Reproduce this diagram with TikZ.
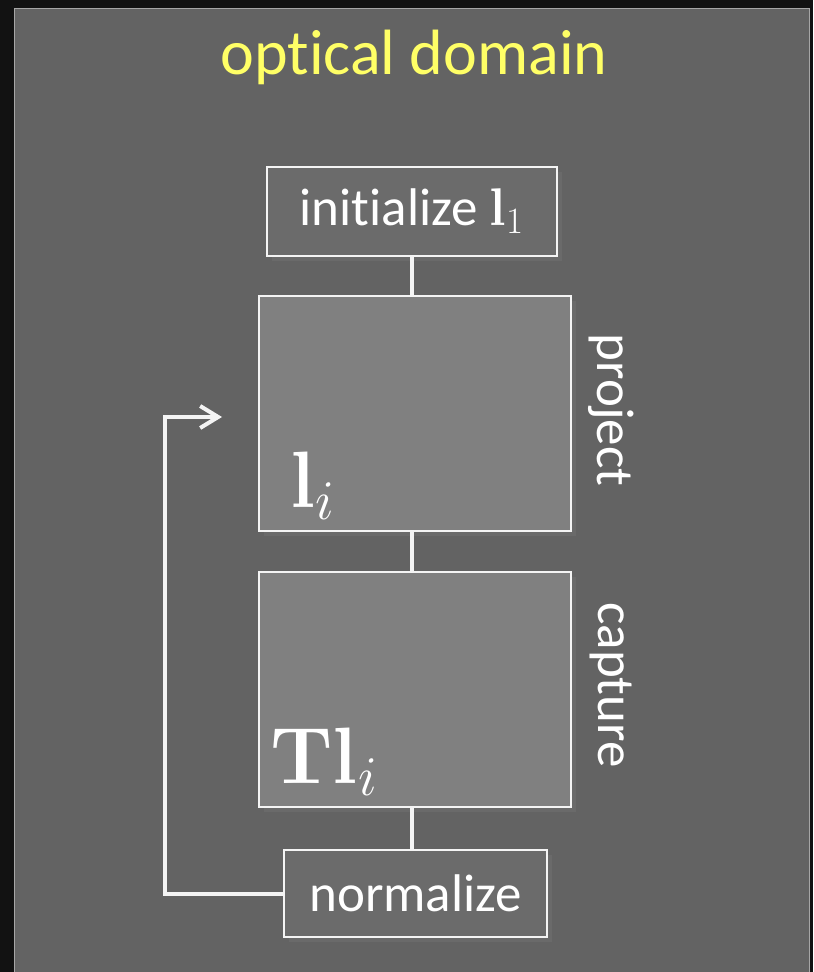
\RequirePackage{fix-cm}
\documentclass[tikz,border=0pt]{standalone}
\usepackage[no-math]{fontspec}
\setmainfont{Carlito}
\usetikzlibrary{arrows.meta,shadows}

% split the t+i pair so the font does not join it into one glyph
\newcommand{\tisplit}{t\kern0pt i}

\definecolor{outerbg}{HTML}{121212}
\definecolor{panelbg}{HTML}{636363}
\definecolor{bigfill}{HTML}{808080}
\definecolor{smallfill}{HTML}{6B6B6B}
\definecolor{edgewhite}{HTML}{F4F4F4}
\definecolor{titleyellow}{HTML}{FFFF66}

\tikzset{
  boxshadow/.style={drop shadow={opacity=0.25, shadow xshift=2.5pt, shadow yshift=-2.5pt}},
  stagebox/.style={draw=edgewhite, line width=1.4pt, fill=bigfill, inner sep=0pt,
    minimum width=156pt, minimum height=117.5pt, boxshadow},
  smallbox/.style={draw=edgewhite, line width=1.4pt, fill=smallfill, inner sep=0pt,
    text=white, font=\fontsize{26.5}{30}\selectfont, boxshadow},
  link/.style={draw=edgewhite, line width=2pt},
  sidelabel/.style={text=white, font=\fontsize{26.5}{30}\selectfont, rotate=-90},
  biglabel/.style={text=white, anchor=base west, inner sep=0pt, font=\fontsize{40}{48}\selectfont}
}

\begin{document}
\begin{tikzpicture}[x=0.5pt, y=-0.5pt]
  \useasboundingbox (0,0) rectangle (813,972);
  \fill[outerbg] (0,0) rectangle (813,972);
  \fill[panelbg] (14,9) rectangle (809,975);
  \draw[gray!70, line width=0.5pt] (14,975) -- (14,9) -- (809,9) -- (809,975);

  % title
  \node (title) [text=titleyellow, font=\fontsize{32}{38}\selectfont] at (414,57) {op\tisplit cal domain};

  % stages
  \node (init) [smallbox, minimum width=145pt, minimum height=44.5pt] at (412,211.5) {ini\tisplit alize $\mathbf{l}_1$};
  \node (proj) [stagebox] at (415,413.5) {};
  \node (capt) [stagebox] at (415,689.5) {};
  \node (norm) [smallbox, minimum width=131.5pt, minimum height=43.5pt] at (415.5,893.5) {normalize};

  % labels inside the stages
  \node (li) [biglabel] at (290,507) {$\mathbf{l}_i$};
  \node (tli) [biglabel] at (270,783) {$\mathbf{Tl}_i$};

  % side labels
  \node (projlbl) [sidelabel] at (611,410) {project};
  \node (captlbl) [sidelabel] at (611,685) {capture};

  % links between stages
  \coordinate (spine) at (412,0);
  \draw[link] (init.south) -- (spine |- proj.north);
  \draw[link] (spine |- proj.south) -- (spine |- capt.north);
  \draw[link] (spine |- capt.south) -- (spine |- norm.north);

  % feedback loop
  \coordinate (loopcorner) at (165,417);
  \coordinate (looptip) at (222,417);
  \draw[link, -{Straight Barb[length=9pt, width=11pt, line width=2pt]}]
    (norm.west) -- (loopcorner |- norm.west) -- (loopcorner) -- (looptip);
\end{tikzpicture}
\end{document}
